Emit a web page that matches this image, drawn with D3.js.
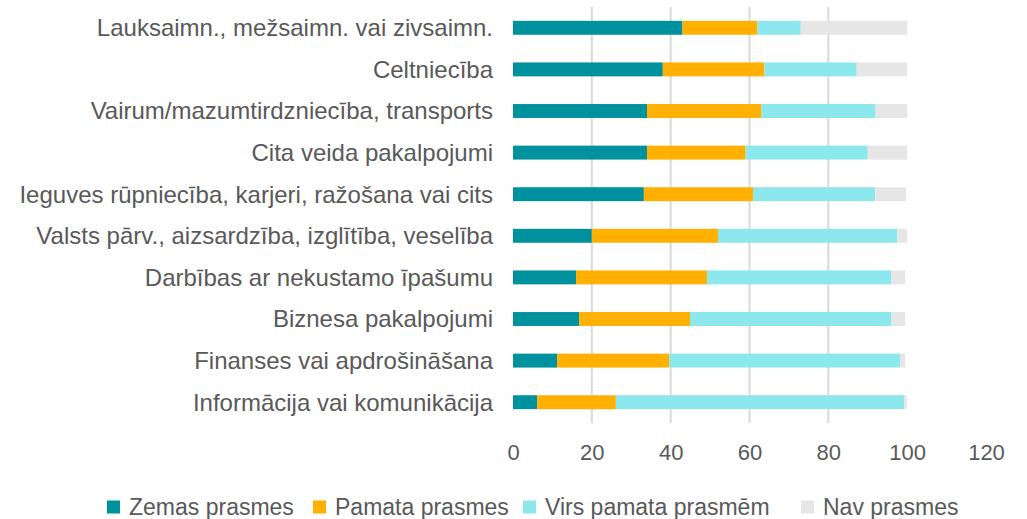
<!DOCTYPE html>
<html>
<head>
<meta charset="utf-8">
<script src="https://cdn.jsdelivr.net/npm/d3@7"></script>
<style>
  html, body { margin: 0; padding: 0; background: #fff; }
  svg { display: block; }
</style>
</head>
<body>
<svg id="chart" width="1027" height="519"></svg>
<script>
// ── Data ──────────────────────────────────────────────────────────────────────
const categories = [
  'Lauksaimn., mežsaimn. vai zivsaimn.',
  'Celtniecība',
  'Vairum/mazumtirdzniecība, transports',
  'Cita veida pakalpojumi',
  'Ieguves rūpniecība, karjeri, ražošana vai cits',
  'Valsts pārv., aizsardzība, izglītība, veselība',
  'Darbības ar nekustamo īpašumu',
  'Biznesa pakalpojumi',
  'Finanses vai apdrošināšana',
  'Informācija vai komunikācija'
]
const seriesNames = ['Zemas prasmes', 'Pamata prasmes', 'Virs pamata prasmēm', 'Nav prasmes']
const zemas  = [43, 38, 34, 34, 33.2, 20, 16, 16.8, 11.2, 6.1]
const pamata = [19, 25.8, 29, 25, 27.7, 32, 33.2, 28.1, 28.4, 20]
const virs   = [11, 23.4, 29, 31, 31, 45.5, 46.7, 51, 58.6, 73.1]
const nav    = [27, 12.8, 8, 10, 7.8, 2.5, 3.6, 3.6, 1.3, 0.7]
const xTicks = [0, 20, 40, 60, 80, 100, 120]
const colors = ['#00919F', '#FFB000', '#8DE8ED', '#E6E6E6']

// ── Layout ────────────────────────────────────────────────────────────────────
const svg = d3.select('#chart')
const FONT = '"Liberation Sans", Arial, sans-serif'
const TEXT = '#595959'

const x = d3.scaleLinear().domain([0, 120]).range([513, 986])
const y = d3.scaleBand().domain(categories).range([7, 423]).paddingInner(0.665).paddingOuter(0.3325)

// ── Gridlines ─────────────────────────────────────────────────────────────────
svg.append('g')
  .selectAll('line')
  .data(xTicks.filter(t => t > 0 && t < 100))
  .join('line')
  .attr('x1', d => x(d)).attr('x2', d => x(d))
  .attr('y1', 7).attr('y2', 423)
  .attr('stroke', '#D9D9D9')
  .attr('stroke-width', 2)

// ── Stacked bars ──────────────────────────────────────────────────────────────
const rows = categories.map((c, i) => ({ cat: c, s0: zemas[i], s1: pamata[i], s2: virs[i], s3: nav[i] }))
const stacked = d3.stack().keys(['s0', 's1', 's2', 's3'])(rows)

svg.append('g')
  .selectAll('g')
  .data(stacked)
  .join('g')
  .attr('fill', (d, i) => colors[i])
  .selectAll('rect')
  .data(d => d)
  .join('rect')
  .attr('x', d => x(d[0]))
  .attr('y', d => y(d.data.cat))
  .attr('width', d => x(d[1]) - x(d[0]))
  .attr('height', y.bandwidth())

// ── Category labels ───────────────────────────────────────────────────────────
svg.append('g')
  .selectAll('text')
  .data(categories)
  .join('text')
  .attr('x', 493)
  .attr('y', d => y(d) + y.bandwidth() / 2)
  .attr('dy', '0.35em')
  .attr('text-anchor', 'end')
  .attr('font-family', FONT)
  .attr('font-size', 24)
  .attr('fill', TEXT)
  .text(d => d)

// ── X axis ────────────────────────────────────────────────────────────────────
const xAxis = svg.append('g')
  .attr('transform', 'translate(0,423)')
  .call(d3.axisBottom(x).tickValues(xTicks).tickSize(0))
xAxis.select('.domain').remove()
xAxis.selectAll('text')
  .attr('y', 29)
  .attr('dy', '0.35em')
  .attr('font-family', FONT)
  .attr('font-size', 22)
  .attr('fill', TEXT)

// ── Legend ────────────────────────────────────────────────────────────────────
const legendX = [107, 313, 523, 801]
const legend = svg.append('g')
  .selectAll('g')
  .data(seriesNames)
  .join('g')
  .attr('transform', (d, i) => `translate(${legendX[i]},507)`)
legend.append('rect')
  .attr('x', 0).attr('y', -6.5)
  .attr('width', 13).attr('height', 13)
  .attr('fill', (d, i) => colors[i])
legend.append('text')
  .attr('x', 22).attr('y', 0)
  .attr('dy', '0.35em')
  .attr('font-family', FONT)
  .attr('font-size', 23)
  .attr('fill', TEXT)
  .text(d => d)
</script>
</body>
</html>
